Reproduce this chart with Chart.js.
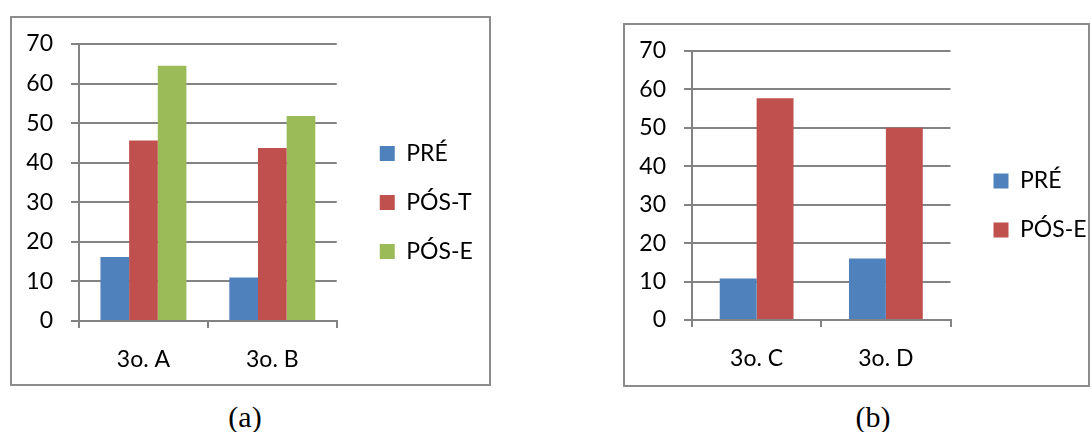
<!DOCTYPE html>
<html>
<head>
<meta charset="utf-8">
<script src="https://cdn.jsdelivr.net/npm/chart.js@4"></script>
<style>
  body { margin: 0; width: 1091px; height: 432px; background: #fff; position: relative; overflow: hidden; }
  .box { position: absolute; box-sizing: border-box; border: 2px solid #8c8c8c; background: #fff; }
  #boxA { left: 10px; top: 16px; width: 481px; height: 370px; }
  #boxB { left: 623px; top: 23px; width: 467px; height: 364px; }
  .box canvas { display: block; }
  .caption { position: absolute; top: 400px; width: 80px; margin-left: -40px; text-align: center;
             font-family: "Liberation Serif", "Times New Roman", serif; font-size: 30px; color: #000; }
</style>
</head>
<body>
<div class="box" id="boxA"><canvas id="chartA" width="477" height="366"></canvas></div>
<div class="box" id="boxB"><canvas id="chartB" width="463" height="360"></canvas></div>
<div class="caption" style="left:245px">(a)</div>
<div class="caption" style="left:873px">(b)</div>
<script>
const classesA = ["3o. A", "3o. B"];
const preA = [16.2, 11];
const posTA = [45.6, 43.7];
const posEA = [64.5, 51.8];

const classesB = ["3o. C", "3o. D"];
const preB = [10.8, 16];
const posEB = [57.7, 50];

const yTicks = [0, 10, 20, 30, 40, 50, 60, 70];

const blue = "#4f81bd";
const red = "#c0504d";
const green = "#9bbb59";
const gridGray = "#838383";
const labelFont = { family: "Lato, 'Open Sans', sans-serif", size: 23 };

// nudges the legend so it sits where Excel put it
const legendNudge = {
    id: "legendNudge",
    afterLayout(chart, args, opts) {
        const lg = chart.legend;
        lg.left += opts.dx;
        lg.right = chart.width;
        lg.top += opts.dy;
        lg.bottom += opts.dy;
    }
};

function makeChart(canvasId, labels, datasets, catPct, xHeight, padRight) {
    return new Chart(document.getElementById(canvasId), {
        type: "bar",
        data: { labels: labels, datasets: datasets },
        plugins: [legendNudge],
        options: {
            responsive: false,
            animation: false,
            layout: { padding: { top: 26, right: padRight, bottom: 0, left: 0 } },
            datasets: {
                bar: { categoryPercentage: catPct, barPercentage: 1, borderWidth: 0 }
            },
            scales: {
                x: {
                    grid: {
                        drawOnChartArea: false,
                        color: gridGray,
                        lineWidth: 2,
                        tickLength: 7,
                        offset: true
                    },
                    border: { color: gridGray, width: 2 },
                    ticks: { color: "#000", font: labelFont, padding: 18 },
                    afterFit(scale) {
                        scale.height = xHeight;
                        scale.paddingLeft = 0;
                        scale.paddingRight = 0;
                    }
                },
                y: {
                    min: 0,
                    max: 70,
                    afterBuildTicks(scale) { scale.ticks = yTicks.map(v => ({ value: v })); },
                    grid: { color: gridGray, lineWidth: 2, tickLength: 8 },
                    border: { color: gridGray, width: 2 },
                    ticks: { color: "#000", font: labelFont, padding: 18 },
                    afterFit(scale) {
                        scale.width = 67;
                        scale.paddingTop = 0;
                        scale.paddingBottom = 0;
                    }
                }
            },
            plugins: {
                legend: {
                    position: "right",
                    fullSize: false,
                    labels: {
                        color: "#000",
                        font: labelFont,
                        boxWidth: 15,
                        boxHeight: 15,
                        padding: 26
                    }
                },
                legendNudge: { dx: 17, dy: 20 },
                tooltip: { enabled: false }
            }
        }
    });
}

makeChart("chartA", classesA, [
    { label: "PRÉ", data: preA, backgroundColor: blue },
    { label: "PÓS-T", data: posTA, backgroundColor: red },
    { label: "PÓS-E", data: posEA, backgroundColor: green }
], 0.667, 63, 44);

makeChart("chartB", classesB, [
    { label: "PRÉ", data: preB, backgroundColor: blue },
    { label: "PÓS-E", data: posEB, backgroundColor: red }
], 0.571, 65, 29);
</script>
</body>
</html>
